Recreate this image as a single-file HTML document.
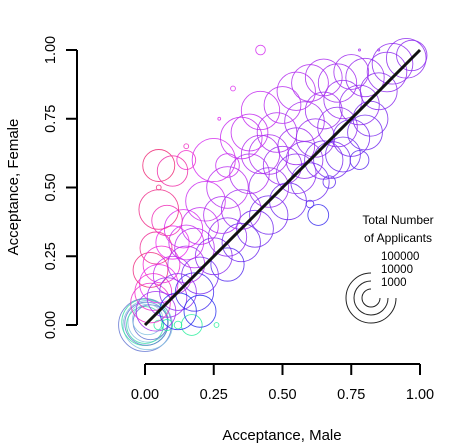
<!DOCTYPE html>
<html><head><meta charset="utf-8"><style>
html,body{margin:0;padding:0;background:#fff}
svg{display:block;font-family:"Liberation Sans",Arial,sans-serif}
</style></head><body>
<svg id="chart" width="474" height="445" viewBox="0 0 474 445" xmlns="http://www.w3.org/2000/svg">
<g id="bubbles"></g>
<line x1="145" y1="325" x2="420" y2="50" stroke="#111" stroke-width="3"/>
<g id="axes"></g>
<text x="282" y="440" font-size="15" text-anchor="middle">Acceptance, Male</text>
<text transform="translate(18,187) rotate(-90)" font-size="15" text-anchor="middle">Acceptance, Female</text>
<g>
<text x="398" y="224" font-size="12" text-anchor="middle">Total Number</text>
<text x="398" y="242" font-size="12" text-anchor="middle">of Applicants</text>
<g id="legend-rings"></g>
</g>
</svg>
<script>
const maleRate=[0,0.01,0,0.005,0.01,0,0.02,0.01,0.12,0.17,0.08,0.26,0.05,
0.02,0.03,0.05,0.02,0.06,0.1,0.08,0.12,0.04,0.1,0.15,0.18,0.14,0.2,0.08,0.05,0.05,0.1,0.04,0.12,0.18,0.2,
0.22,0.25,0.3,0.35,0.3,0.25,0.38,0.42,0.35,0.45,0.5,0.48,0.55,0.52,0.6,0.58,0.62,0.65,0.7,0.68,0.72,0.78,0.75,0.8,0.85,0.88,0.9,0.95,0.97,0.82,
0.63,0.6,0.67,0.42,0.32,0.27,0.15,0.15,0.05,0.3,0.38,0.42,0.5,0.55,0.6,0.65,0.7,0.75,0.45,0.4,0.35,0.55,0.65,0.58,0.28,0.2,0.15,0.3,0.45,0.8,0.72,0.78,0.85,0.78];
const femaleRate=[0,0,0.01,0.005,0.01,0,0.01,0.02,0,0,0,0,0,
0.08,0.12,0.15,0.2,0.22,0.18,0.1,0.12,0.28,0.3,0.22,0.28,0.35,0.36,0.38,0.42,0.58,0.56,0.05,0.05,0.12,0.05,
0.45,0.6,0.5,0.42,0.32,0.25,0.55,0.62,0.68,0.5,0.58,0.7,0.65,0.45,0.52,0.74,0.68,0.78,0.72,0.6,0.82,0.8,0.68,0.9,0.85,0.92,0.95,0.97,0.98,0.75,
0.4,0.44,0.52,1.0,0.86,0.75,0.65,0.6,0.5,0.58,0.7,0.78,0.8,0.85,0.88,0.9,0.88,0.92,0.4,0.35,0.3,0.55,0.6,0.6,0.4,0.18,0.3,0.22,0.62,0.7,0.62,0.6,1.0,1.0];
const applicants=[200000,120000,80000,50000,30000,20000,15000,8000,300,2000,500,200,400,
30000,20000,25000,15000,20000,25000,30000,20000,10000,12000,20000,30000,25000,20000,8000,30000,10000,8000,30000,20000,25000,10000,
30000,50000,40000,30000,25000,20000,30000,25000,40000,30000,25000,30000,20000,20000,25000,30000,25000,20000,30000,20000,25000,30000,20000,25000,20000,30000,35000,30000,8000,15000,
2000,300,600,400,200,150,200,1500,200,3000,20000,25000,20000,25000,20000,20000,25000,15000,25000,20000,25000,30000,25000,20000,20000,20000,15000,12000,30000,15000,15000,1500,100,100];
const xTicks=["0.00","0.25","0.50","0.75","1.00"];
const yTicks=["0.00","0.25","0.50","0.75","1.00"];
const legendCounts=[100000,10000,1000];

const NS="http://www.w3.org/2000/svg";
const sx=v=>145+275*v, sy=v=>325-275*v;
const rScale=n=>Math.max(1,8*(Math.log10(n)-2));
function mk(tag,attrs,parent){const e=document.createElementNS(NS,tag);for(const k in attrs)e.setAttribute(k,attrs[k]);parent.appendChild(e);return e;}
function hue(x,y){
  if(y<0.02) return 155;
  const th=Math.atan2(y,x)*180/Math.PI;
  let h;
  if(th<45) h=270-(45-th)*2;
  else if(th<70) h=270+(th-45)*1.0;
  else h=295+(th-70)*2.75;
  return Math.max(238,Math.min(350,h));
}
const bg=document.getElementById('bubbles');
maleRate.forEach((m,i)=>{
  const f=femaleRate[i];
  const h=hue(m,f);
  let col=`hsl(${h},85%,55%)`;
  if(m<0.03&&f<0.03) col=i%3===0?'hsl(230,55%,60%)':(i%3===1?'hsl(200,60%,70%)':'hsl(160,70%,55%)');
  const c=mk('circle',{cx:sx(m),cy:sy(f),r:rScale(applicants[i]),fill:'none',stroke:col,'stroke-width':0.9,'stroke-opacity':0.85},bg);
  
  
});
const ax=document.getElementById('axes');
mk('line',{x1:145,y1:364,x2:420,y2:364,stroke:'#000','stroke-width':2},ax);
mk('line',{x1:77,y1:50,x2:77,y2:325,stroke:'#000','stroke-width':2},ax);
xTicks.forEach((t,i)=>{
  const v=i/(xTicks.length-1);
  mk('line',{x1:sx(v),y1:364,x2:sx(v),y2:375,stroke:'#000','stroke-width':2},ax);
  const tx=mk('text',{x:sx(v),y:399,'font-size':14.5,'text-anchor':'middle'},ax);
  tx.textContent=t;
  
  
});
yTicks.forEach((t,i)=>{
  const v=i/(yTicks.length-1);
  mk('line',{x1:66,y1:sy(v),x2:77,y2:sy(v),stroke:'#000','stroke-width':2},ax);
  const tx=mk('text',{transform:`translate(55,${sy(v)}) rotate(-90)`,'font-size':14.5,'text-anchor':'middle'},ax);
  tx.textContent=t;
  
  
});
const lg=document.getElementById('legend-rings');
const cx=371,cy=298;
legendCounts.forEach((n,i)=>{
  const r=rScale(n)+1;
  const d=`M ${cx} ${cy-r} A ${r} ${r} 0 1 0 ${cx+r} ${cy}`;
  const p=mk('path',{d:d,fill:'none',stroke:'#222','stroke-width':1},lg);
  
  
  const t=mk('text',{x:381,y:260+i*13,'font-size':11.5},lg);
  t.textContent=String(n);
  
  
});
</script>
</body></html>
